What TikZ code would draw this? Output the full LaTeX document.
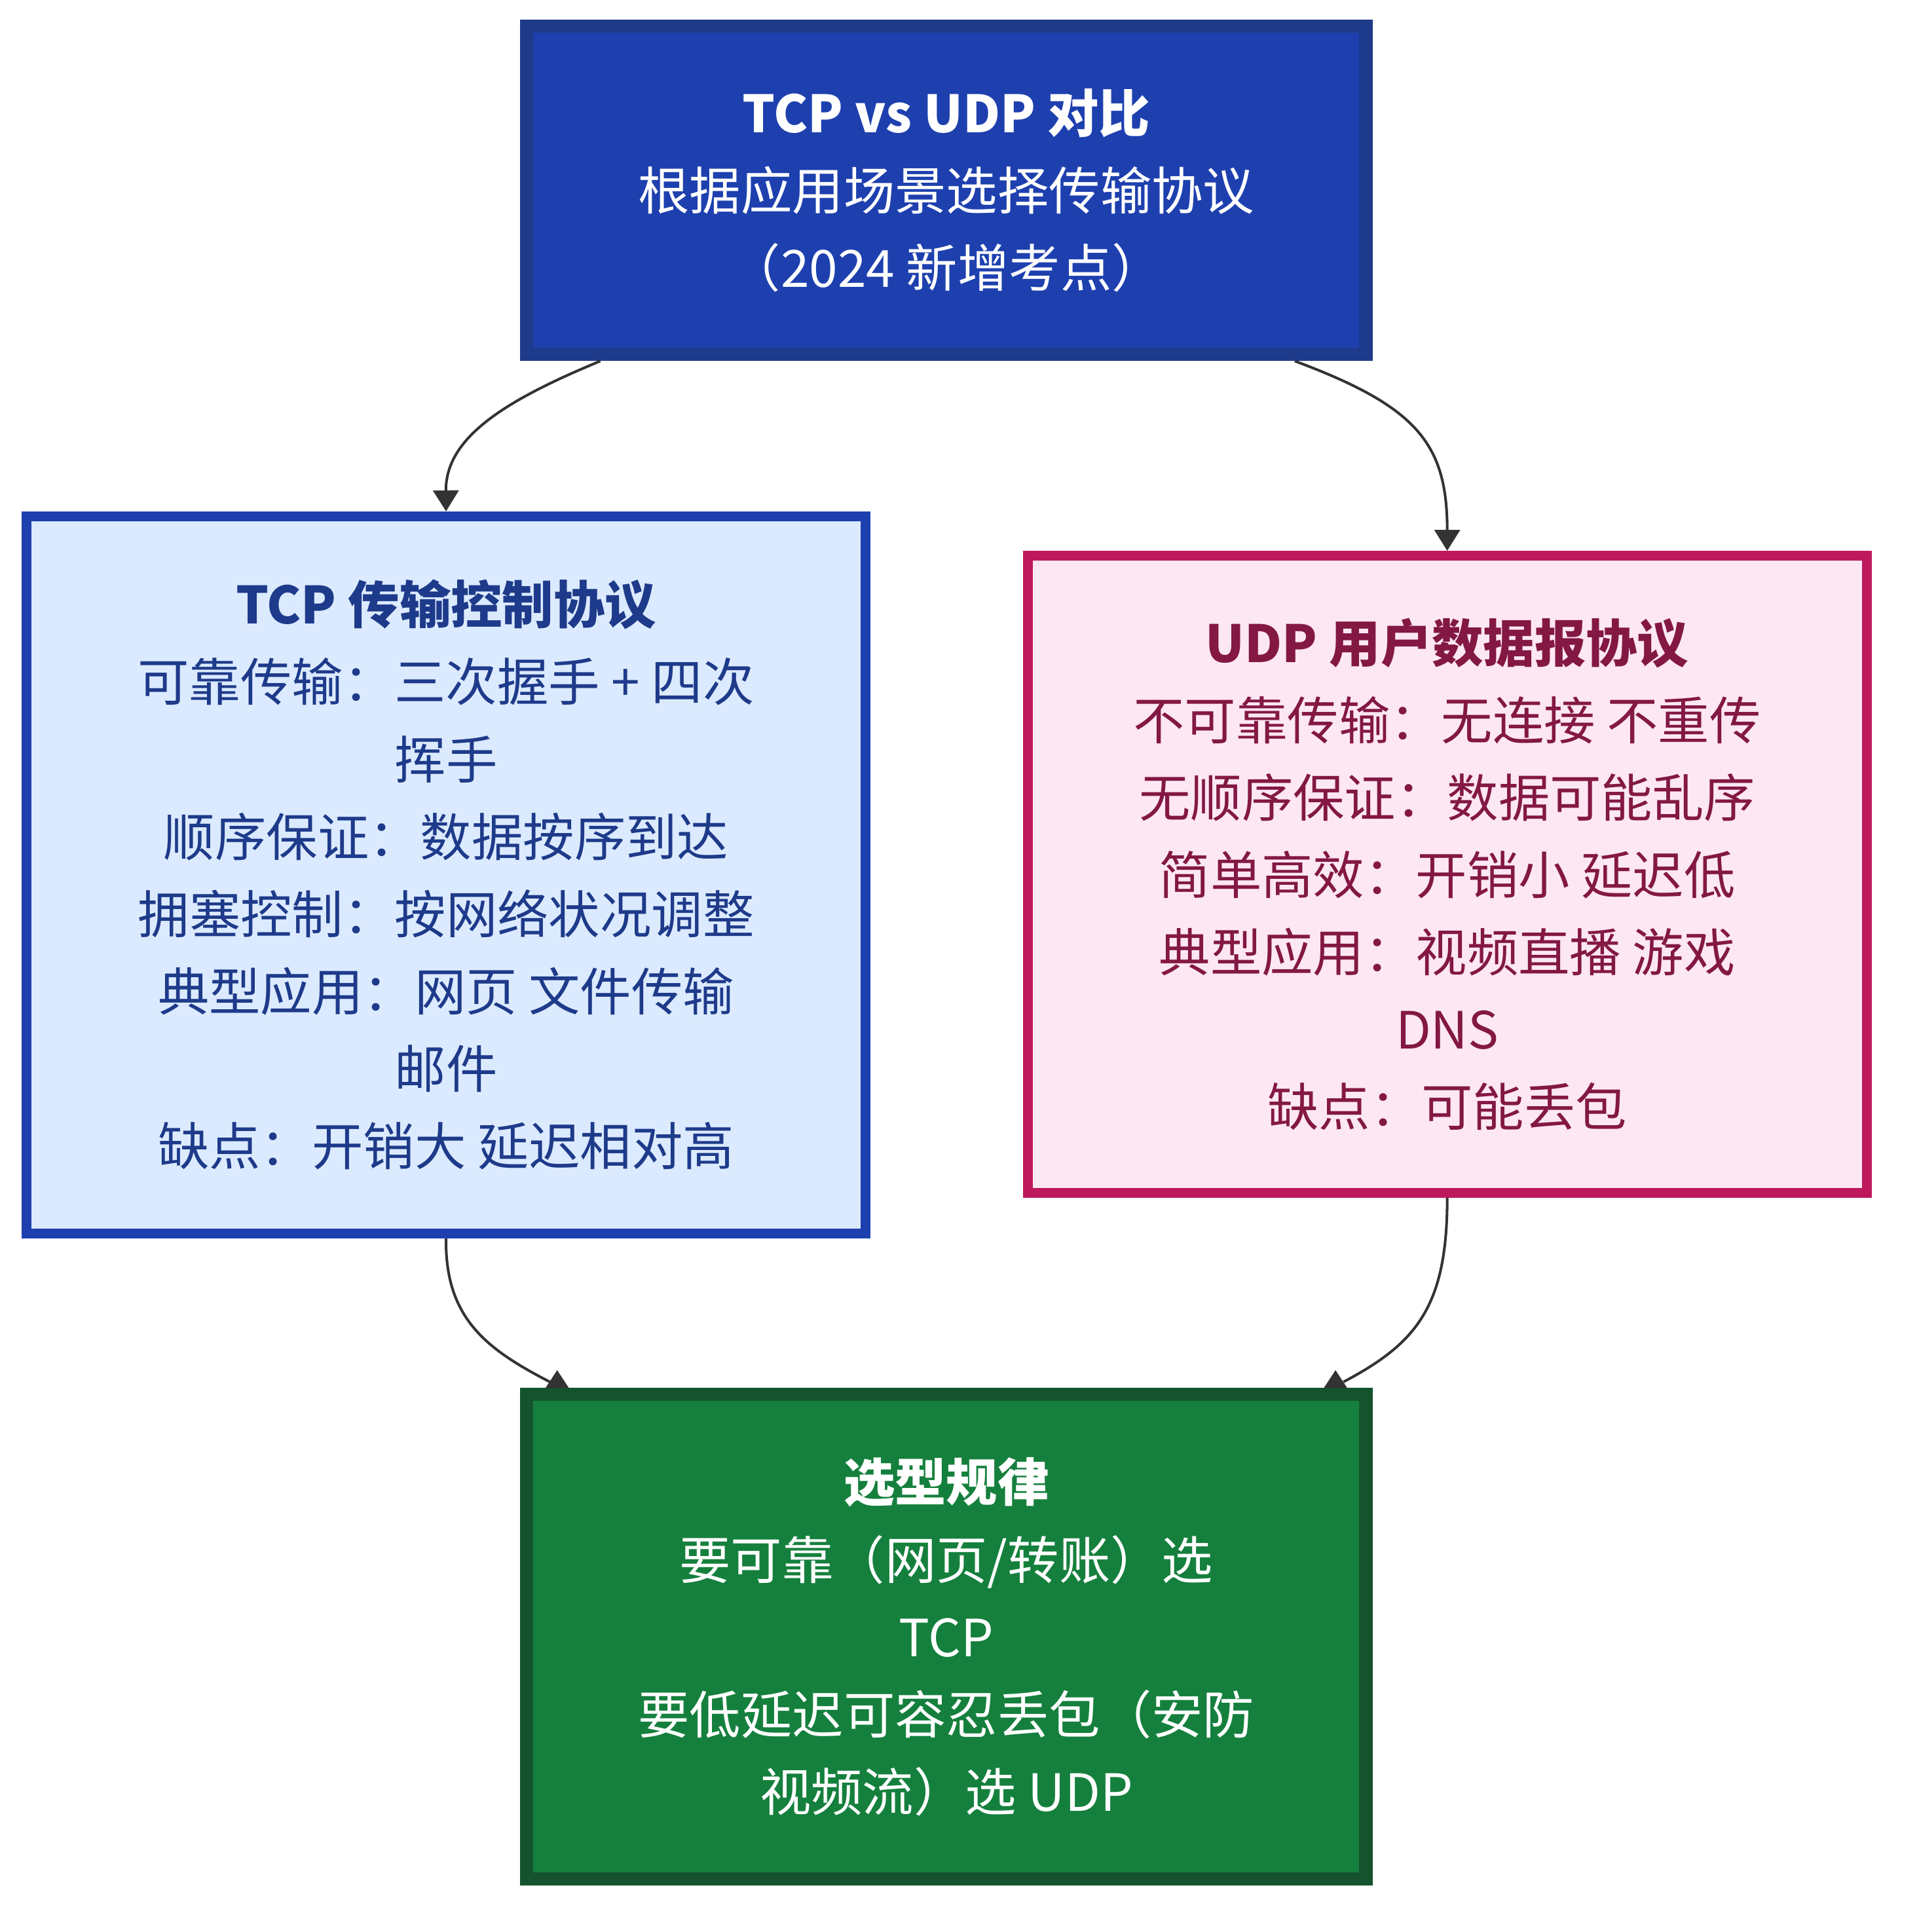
\documentclass[tikz,border=0pt]{standalone}
\usepackage{fontspec}
\setmainfont{Noto Sans CJK SC}
\usetikzlibrary{arrows.meta,calc}

\definecolor{headfill}{RGB}{30,64,175}
\definecolor{headline}{RGB}{30,58,138}
\definecolor{tcpfill}{RGB}{219,234,254}
\definecolor{tcpline}{RGB}{30,64,175}
\definecolor{tcptext}{RGB}{30,58,138}
\definecolor{udpfill}{RGB}{252,231,243}
\definecolor{udpline}{RGB}{190,24,93}
\definecolor{udptext}{RGB}{131,24,67}
\definecolor{sumfill}{RGB}{21,128,61}
\definecolor{sumline}{RGB}{20,83,45}
\definecolor{linkgray}{RGB}{51,51,51}

\tikzset{every picture/.style={line width=0.75pt}}
\tikzset{
  box/.style={rectangle, align=center, minimum width=510.75pt, font=\fontsize{31.25}{47.1}\selectfont},
  headbox/.style={box, draw=headline, fill=headfill, text=white, line width=8pt, minimum height=199.8pt},
  tcpbox/.style={box, draw=tcpline, fill=tcpfill, text=tcptext, line width=6pt, minimum height=436.5pt},
  udpbox/.style={box, draw=udpline, fill=udpfill, text=udptext, line width=6pt, minimum height=387.75pt},
  sumbox/.style={box, draw=sumline, fill=sumfill, text=white, line width=8pt, minimum height=295pt},
  link/.style={draw=linkgray, line width=1.6pt},
  arrowlink/.style={link, -{Triangle[length=12.75pt,width=15.5pt]}},
}

\begin{document}
\begin{tikzpicture}[x=0.75pt,y=0.75pt,yscale=-1,xscale=1]
    \useasboundingbox (0,0) rectangle (1557,1568);

    %Shape: Rectangle - title
    \node[headbox] (head) at (768,154.5) {\textbf{TCP vs UDP 对比}\\根据应用场景选择传输协议\\（2024 新增考点）};
    %Shape: Rectangle - tcp
    \node[tcpbox] (tcp) at (362,710) {\textbf{TCP 传输控制协议}\\可靠传输：三次握手 + 四次\\挥手\\顺序保证：数据按序到达\\拥塞控制：按网络状况调整\\典型应用：网页 文件传输\\邮件\\缺点：开销大 延迟相对高};
    %Shape: Rectangle - udp
    \node[udpbox] (udp) at (1174.5,709.5) {\textbf{UDP 用户数据报协议}\\不可靠传输：无连接 不重传\\无顺序保证：数据可能乱序\\简单高效：开销小 延迟低\\典型应用：视频直播 游戏\\DNS\\缺点：可能丢包};
    %Shape: Rectangle - rule
    \node[sumbox] (sum) at (768,1328.5) {\textbf{选型规律}\\要可靠（网页/转账）选\\TCP\\要低延迟可容忍丢包（安防\\视频流）选 UDP};

    %Curve Lines
    \draw[arrowlink] ($(head.south west)+(65,0)$) .. controls (410,325) and (361.5,355) .. (tcp.north);
    \draw[arrowlink] ($(head.south east)+(-63,0)$) .. controls (1150,330) and (1174.5,360) .. (udp.north);

    %Curve Lines
    \coordinate (tcpend) at ($(sum.north west)+(24,-5)$);
    \coordinate (udpend) at ($(sum.north east)+(-23.5,-5)$);
    \draw[link] (tcp.south) .. controls (361,1070) and (395,1095) .. (tcpend);
    \draw[link] (udp.south) .. controls (1174.5,1060) and (1150,1090) .. (udpend);
    \fill[linkgray] ($(sum.north west)+(20.5,0)$) -- ($(sum.north west)+(30,-14.5)$) -- ($(sum.north west)+(39.5,0)$) -- cycle;
    \fill[linkgray] ($(sum.north east)+(-39.5,0)$) -- ($(sum.north east)+(-30,-14.5)$) -- ($(sum.north east)+(-20.5,0)$) -- cycle;
\end{tikzpicture}
\end{document}
